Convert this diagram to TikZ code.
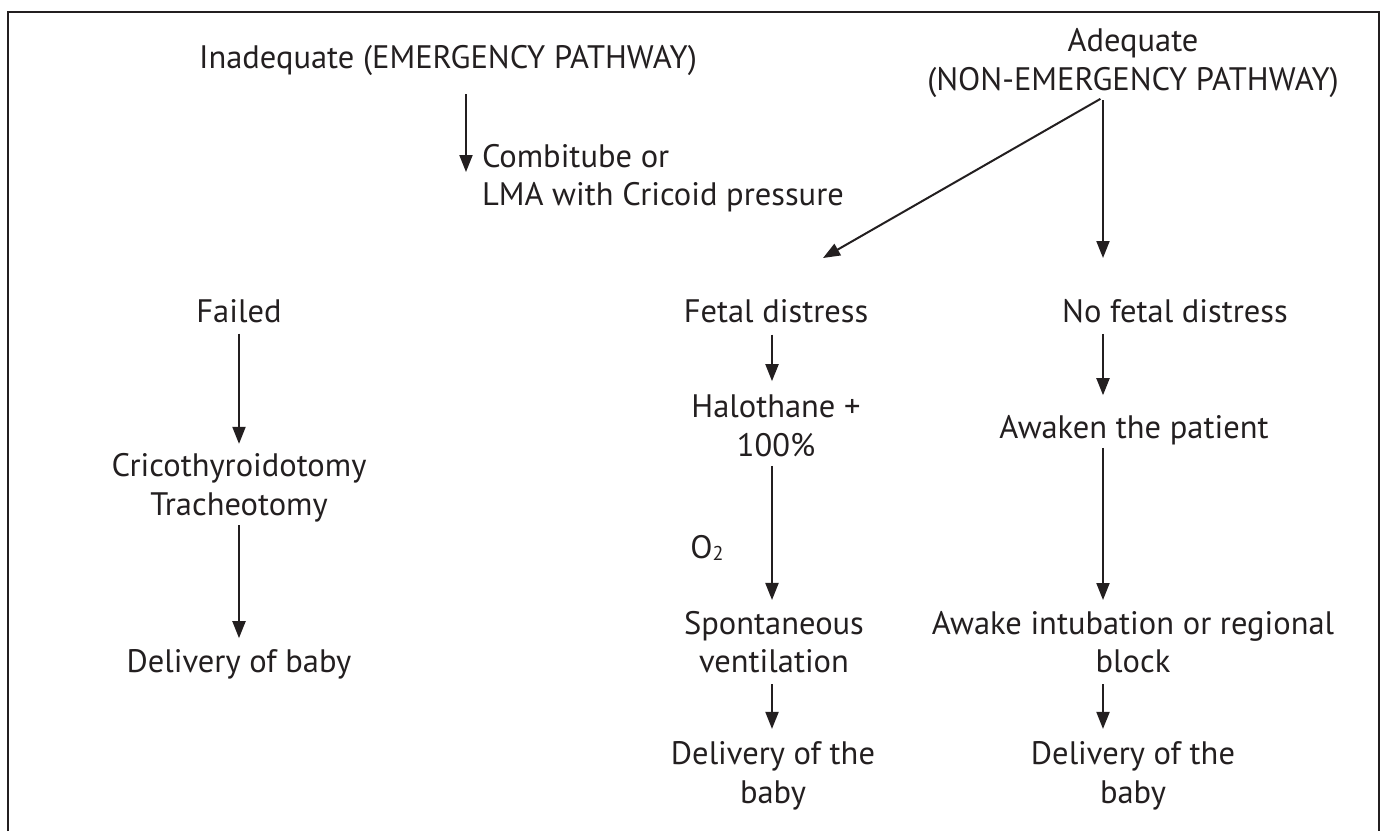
\documentclass[tikz,border=0pt]{standalone}
\usepackage{fontspec}
\setmainfont{PT Sans}
\usetikzlibrary{arrows.meta}
\definecolor{ink}{HTML}{231F20}
\begin{document}
\begin{tikzpicture}[x=1pt,y=-1pt,
  txt/.style={inner sep=0pt,outer sep=0pt,text=ink,align=center,font=\fontsize{32.5}{38.5}\selectfont},
  arr/.style={draw=ink,line width=2pt,-{Triangle[length=17pt,width=13pt]}},
  frame/.style={draw=ink,line width=2pt}]
\useasboundingbox (0,0) rectangle (1382,831);
\draw[frame] (8,831) -- (8,12) -- (1379,12) -- (1379,831);
% column coordinates
\coordinate (colA) at (466,0);
\coordinate (colF) at (772,0);
\coordinate (colN) at (1103,0);
\coordinate (tipF) at (823,258);
\coordinate (tipN) at (1103,258);
% nodes
\node[txt] (inad) at (448,60) {Inadequate (EMERGENCY PATHWAY)};
\node[txt] (adeq) at (1133,63) {Adequate\\(NON-EMERGENCY PATHWAY)};
\node[txt,align=left,anchor=west] (combi) at (482,178) {Combitube or\\LMA with Cricoid pressure};
\node[txt] (failed) at (239,311) {Failed};
\node[txt] (crico) at (239,488) {Cricothyroidotomy\\Tracheotomy};
\node[txt] (delbaby) at (239,664) {Delivery of baby};
\node[txt] (fetal) at (776,311) {Fetal distress};
\node[txt] (halo) at (776,426) {Halothane +\\100\%};
\node[txt] (otwo) at (707,548) {O\raisebox{-2pt}{\fontsize{20}{20}\selectfont 2}};
\node[txt] (spont) at (774,642) {Spontaneous\\ventilation};
\node[txt] (delA) at (773,776) {Delivery of the\\baby};
\node[txt] (nofetal) at (1175,311) {No fetal distress};
\node[txt] (awaken) at (1134,430) {Awaken the patient};
\node[txt] (awake) at (1133,642) {Awake intubation or regional\\block};
\node[txt] (delB) at (1133,776) {Delivery of the\\baby};
% connectors
\draw[arr,shorten <=19pt] (inad.south -| colA) -- ([yshift=6pt]combi.west -| colA);
\draw[arr,shorten <=3pt] (adeq.south -| colN) -- (tipF);
\draw[arr,shorten <=3pt] (adeq.south -| colN) -- (tipN);
\draw[arr,shorten <=11pt,shorten >=10pt] (failed) -- (crico);
\draw[arr,shorten <=3pt,shorten >=11pt] (crico) -- (delbaby);
\draw[arr,shorten <=12pt,shorten >=14pt] (fetal.south -| colF) -- (halo.north -| colF);
\draw[arr,shorten <=9pt,shorten >=11pt] (halo.south -| colF) -- (spont.north -| colF);
\draw[arr,shorten <=11pt,shorten >=13pt] (spont.south -| colF) -- (delA.north -| colF);
\draw[arr,shorten <=11pt,shorten >=20pt] (nofetal.south -| colN) -- (awaken.north -| colN);
\draw[arr,shorten <=3pt,shorten >=11pt] (awaken.south -| colN) -- (awake.north -| colN);
\draw[arr,shorten <=11pt,shorten >=13pt] (awake.south -| colN) -- (delB.north -| colN);
\end{tikzpicture}
\end{document}
